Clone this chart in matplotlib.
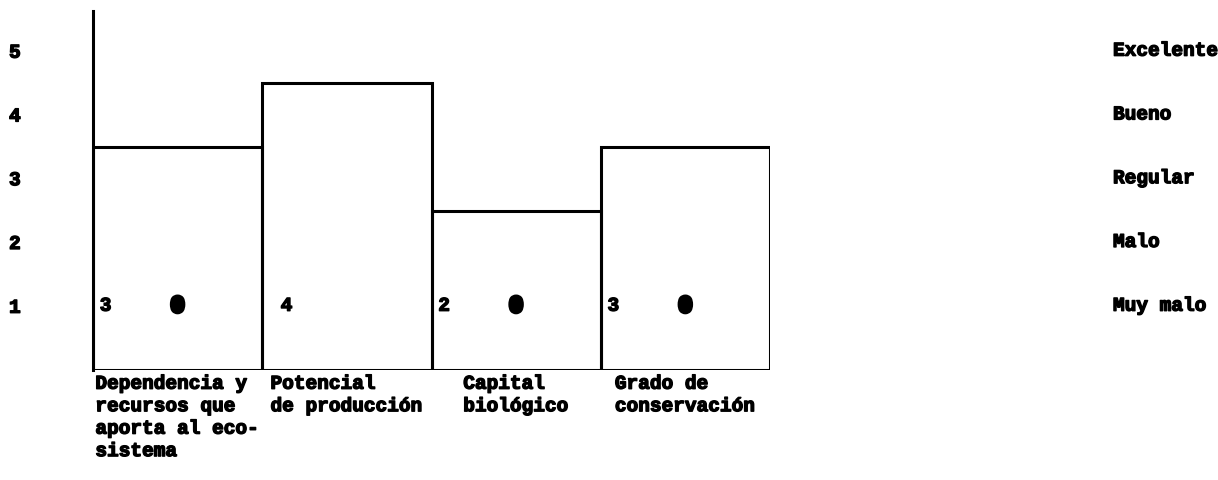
import matplotlib
matplotlib.use("Agg")
import matplotlib.pyplot as plt
import matplotlib.patheffects as pe
import matplotlib.transforms as mtransforms

# datos
criterios = ["Dependencia y\nrecursos que\naporta al eco-\nsistema",
             "Potencial\nde producción",
             "Capital\nbiológico",
             "Grado de\nconservación"]
valores = [3.5, 4.5, 2.5, 3.5]
puntajes = ["3", " 4", "2", "3"]
marca_cero = [True, False, True, True]
niveles = [1, 2, 3, 4, 5]
nombres_nivel = ["Muy malo", "Malo", "Regular", "Bueno", "Excelente"]

plt.rcParams['font.family'] = ['Liberation Mono', 'DejaVu Sans Mono']
plt.rcParams['font.weight'] = 'bold'
grueso = [pe.withStroke(linewidth=1.0, foreground='black')]
fs = 14

fig = plt.figure(figsize=(12.18, 4.81), dpi=100)
ax = fig.add_axes([93 / 1218, 110 / 481, 677 / 1218, 359 / 481])

x = [i + 0.5 for i in range(len(valores))]
ax.bar(x, valores, width=1.0, fill=False, edgecolor='black', linewidth=2.2)
ax.set_xlim(0, 4)
ax.set_ylim(0, 5.63)

for s in ['top', 'right', 'bottom']:
    ax.spines[s].set_visible(False)
ax.spines['left'].set_linewidth(2.2)
ax.set_xticks([])
ax.set_yticks(niveles, [str(n) for n in niveles])
ax.tick_params(axis='y', length=0, pad=52, labelsize=fs)
for t in ax.get_yticklabels():
    t.set_path_effects(grueso)

# puntaje y marca dentro de cada barra
for i, (p, m) in enumerate(zip(puntajes, marca_cero)):
    ax.text(i + 0.04, 1, p, fontsize=fs, va='center', ha='left', path_effects=grueso)
    if m:
        ax.text(i + 0.5, 1, "0", fontsize=16, va='center', ha='center',
                path_effects=[pe.withStroke(linewidth=3.4, foreground='black')])

# nombres de criterios debajo
for xi, c in zip(x, criterios):
    ax.text(xi, -0.09, c, fontsize=fs, va='top', ha='center', multialignment='left',
            linespacing=1.42, path_effects=grueso)

# escala cualitativa a la derecha
trans = mtransforms.blended_transform_factory(fig.transFigure, ax.transData)
for n, nom in zip(niveles, nombres_nivel):
    ax.text(1113 / 1218, n, nom, transform=trans, fontsize=fs, va='center', ha='left',
            path_effects=grueso)

fig.savefig("out.png", dpi=100, facecolor='white')
